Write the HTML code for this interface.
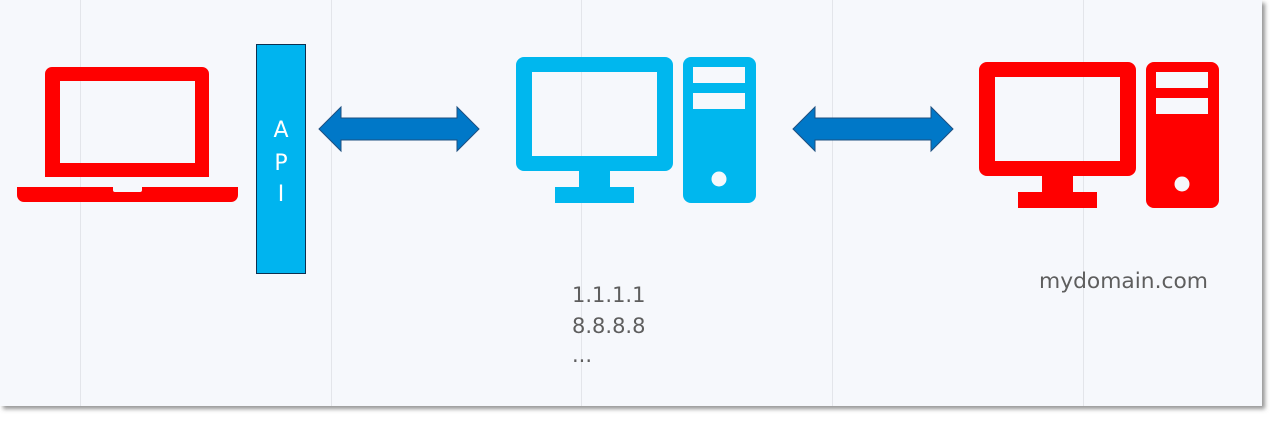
<!DOCTYPE html>
<html><head><style>
html,body{margin:0;padding:0;background:#fff;}
body{width:1277px;height:421px;position:relative;overflow:hidden;font-family:"Liberation Sans",sans-serif;}
</style></head><body>
<svg width="1277" height="421" viewBox="0 0 1277 421" xmlns="http://www.w3.org/2000/svg" style="position:absolute;left:0;top:0">
<defs><filter id="sh" x="-5%" y="-5%" width="110%" height="120%"><feDropShadow dx="3" dy="3" stdDeviation="2" flood-color="#666" flood-opacity="0.7"/></filter></defs>
<rect x="0" y="0" width="1262" height="406" fill="#f6f8fc" filter="url(#sh)"/>
<g stroke="#e3e5ea" stroke-width="1">
<line x1="80.5" y1="0" x2="80.5" y2="406"/><line x1="331.5" y1="0" x2="331.5" y2="406"/>
<line x1="581.5" y1="0" x2="581.5" y2="406"/><line x1="832.5" y1="0" x2="832.5" y2="406"/>
<line x1="1083.5" y1="0" x2="1083.5" y2="406"/>
</g>
<path fill="#ff0000" fill-rule="evenodd" d="M52 67H202A7 7 0 0 1 209 74V177H45V74A7 7 0 0 1 52 67ZM60 81V163H195V81Z"/>
<path fill="#ff0000" d="M17 187H113V190A2 2 0 0 0 115 192H140A2 2 0 0 0 142 190V187H238V195A7 7 0 0 1 231 202H24A7 7 0 0 1 17 195Z"/>
<rect x="256.5" y="44.5" width="49" height="229" fill="#00b4ef" stroke="#0d3050" stroke-width="1"/>
<g fill="#fff" font-size="22" text-anchor="middle" font-family="'DejaVu Sans',sans-serif"><text x="281" y="137">A</text><text x="281" y="170">P</text><text x="281" y="201">I</text></g>
<path fill="#0078c8" stroke="#1d4f80" stroke-width="1" d="M319 129L341 107V118H457V107L479 129L457 151V140H341V151Z"/>
<path fill="#0078c8" stroke="#1d4f80" stroke-width="1" d="M793 129L815 107V118H931V107L953 129L931 151V140H815V151Z"/>
<g fill="#00b7ee">
<path fill-rule="evenodd" d="M524 57H665A8 8 0 0 1 673 65V163A8 8 0 0 1 665 171H524A8 8 0 0 1 516 163V65A8 8 0 0 1 524 57ZM532 72V156H657V72Z"/>
<rect x="579" y="170" width="31" height="18"/><rect x="555" y="187" width="79" height="16"/>
<path fill-rule="evenodd" d="M691 57H748A8 8 0 0 1 756 65V195A8 8 0 0 1 748 203H691A8 8 0 0 1 683 195V65A8 8 0 0 1 691 57ZM693 67V83H745V67ZM693 93V109H745V93Z"/>
</g>
<circle cx="719" cy="179" r="7.5" fill="#f6f8fc"/>
<g fill="#ff0000" transform="translate(463,5)">
<path fill-rule="evenodd" d="M524 57H665A8 8 0 0 1 673 65V163A8 8 0 0 1 665 171H524A8 8 0 0 1 516 163V65A8 8 0 0 1 524 57ZM532 72V156H657V72Z"/>
<rect x="579" y="170" width="31" height="18"/><rect x="555" y="187" width="79" height="16"/>
<path fill-rule="evenodd" d="M691 57H748A8 8 0 0 1 756 65V195A8 8 0 0 1 748 203H691A8 8 0 0 1 683 195V65A8 8 0 0 1 691 57ZM693 67V83H745V67ZM693 93V109H745V93Z"/>
<circle cx="719" cy="179" r="7.5" fill="#f6f8fc"/>
</g>
<g fill="#5e5e5e" font-size="21" font-family="'DejaVu Sans',sans-serif">
<text x="572" y="302">1.1.1.1</text><text x="572" y="333">8.8.8.8</text><text x="572" y="362">...</text>
<text x="1039" y="288" textLength="169" lengthAdjust="spacingAndGlyphs">mydomain.com</text>
</g>
</svg>
</body></html>
